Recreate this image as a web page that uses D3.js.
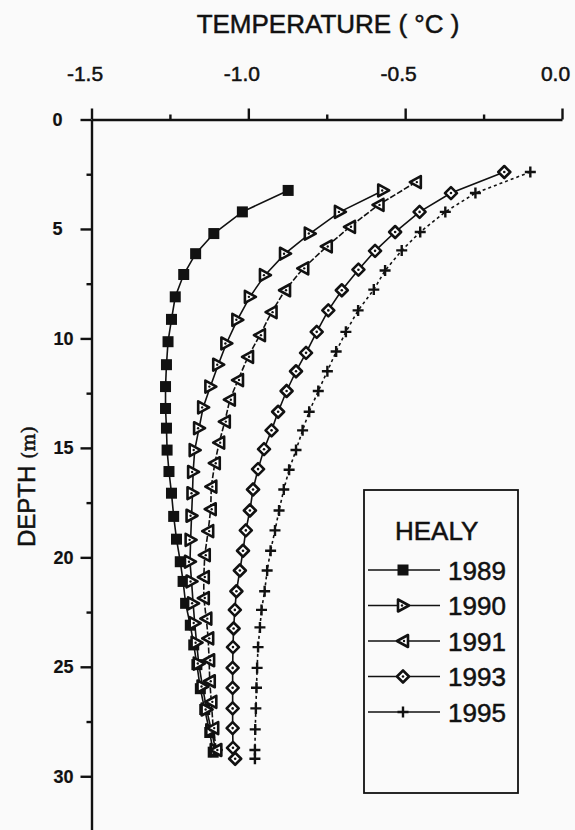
<!DOCTYPE html>
<html>
<head>
<meta charset="utf-8">
<script src="https://cdn.jsdelivr.net/npm/d3@7"></script>
<style>
	body { margin:0; background:#fafafa; }
	svg { display:block; font-family:"Liberation Sans", Arial, sans-serif; }
	text { stroke:#111; stroke-width:0.5px; }
</style>
</head>
<body>
<div id="chart"></div>
<script>
// depth (m) and temperature (deg C), one pair of arrays per year
var years = ["1989","1990","1991","1993","1995"]

var depth1989 = [3.24,4.22,5.21,6.13,7.08,8.10,9.13,10.15,11.2,12.2,13.2,14.1,15.1,16.08,17.07,18.13,19.17,20.2,21.1,22.1,23.1,24.0,24.9,26.0,26.95,28.0,28.9]
var temp1989 = [-0.873,-1.019,-1.110,-1.168,-1.206,-1.233,-1.245,-1.256,-1.261,-1.264,-1.264,-1.261,-1.259,-1.253,-1.245,-1.238,-1.229,-1.217,-1.208,-1.200,-1.185,-1.174,-1.164,-1.153,-1.139,-1.123,-1.112]

var depth1990 = [3.24,4.22,5.21,6.13,7.11,8.1,9.15,10.23,11.2,12.2,13.15,14.1,15.1,16.1,17.07,18.1,19.2,20.2,21.1,22.1,23.0,23.9,24.85,25.9,26.95,27.9,28.8]
var temp1990 = [-0.570,-0.708,-0.804,-0.883,-0.947,-0.995,-1.035,-1.070,-1.096,-1.121,-1.144,-1.157,-1.171,-1.176,-1.178,-1.181,-1.184,-1.186,-1.181,-1.176,-1.171,-1.165,-1.158,-1.146,-1.133,-1.118,-1.104]

var depth1991 = [2.86,3.9,4.9,5.8,6.8,7.8,8.8,9.85,10.84,11.9,12.8,13.8,14.76,15.7,16.77,17.8,18.8,19.9,20.9,21.86,22.8,23.7,24.7,25.66,26.6,27.8,28.8]
var temp1991 = [-0.466,-0.585,-0.676,-0.750,-0.825,-0.883,-0.926,-0.963,-1.001,-1.033,-1.059,-1.075,-1.093,-1.107,-1.118,-1.120,-1.128,-1.139,-1.142,-1.142,-1.134,-1.128,-1.125,-1.123,-1.118,-1.112,-1.102]

var depth1993 = [2.4,3.36,4.22,5.14,6.0,6.86,7.8,8.72,9.7,10.66,11.5,12.4,13.35,14.2,15.06,15.97,16.9,17.86,18.77,19.7,20.6,21.55,22.4,23.25,24.1,25.05,25.96,26.9,27.8,28.7,29.2]
var temp1993 = [-0.184,-0.354,-0.454,-0.532,-0.596,-0.649,-0.702,-0.745,-0.782,-0.816,-0.848,-0.878,-0.905,-0.926,-0.950,-0.969,-0.985,-0.995,-1.008,-1.017,-1.027,-1.038,-1.043,-1.047,-1.049,-1.050,-1.050,-1.050,-1.050,-1.049,-1.042]

var depth1995 = [2.4,3.36,4.22,5.14,5.98,6.9,7.77,8.72,9.7,10.6,11.5,12.4,13.35,14.2,15.1,16.0,16.9,17.86,18.77,19.7,20.6,21.55,22.4,23.2,24.1,25.05,25.96,26.9,27.86,28.8,29.2]
var temp1995 = [-0.101,-0.276,-0.372,-0.452,-0.511,-0.564,-0.600,-0.650,-0.689,-0.720,-0.748,-0.777,-0.806,-0.827,-0.848,-0.870,-0.887,-0.902,-0.915,-0.929,-0.940,-0.948,-0.958,-0.963,-0.969,-0.972,-0.974,-0.976,-0.978,-0.979,-0.979]

var xTicks = [-1.5,-1.0,-0.5,0.0]
var xMinor = [-1.25,-0.75,-0.25]
var yTicks = [0,5,10,15,20,25,30]
var yMinor = [2.5,7.5,12.5,17.5,22.5,27.5,32.5]

var chart = {}
chart.width = 575
chart.height = 830

var x = d3.scaleLinear().domain([-1.5,0]).range([91.5,562])
var y = d3.scaleLinear().domain([0,32.5]).range([119.5,831])

var svg = d3.select("#chart")
	.append("svg")
	.attr("width",chart.width)
	.attr("height",chart.height)

var series = [
	{year:"1989", depth:depth1989, temp:temp1989, marker:"square", dash:null},
	{year:"1990", depth:depth1990, temp:temp1990, marker:"right", dash:null},
	{year:"1991", depth:depth1991, temp:temp1991, marker:"left", dash:"6,2"},
	{year:"1993", depth:depth1993, temp:temp1993, marker:"diamond", dash:null},
	{year:"1995", depth:depth1995, temp:temp1995, marker:"plus", dash:"3,3"}
]

// axes
var xAxis = svg.append("g")
	.attr("transform","translate(0,"+y(0)+")")
	.call(d3.axisTop(x).tickValues(xTicks).tickSize(11).tickSizeOuter(0).tickPadding(28)
		.tickFormat(d3.format(".1f")))
xAxis.selectAll("text").attr("font-size",21).attr("dx",-7).attr("fill","#111")
	.text(function(d){ return d3.format(".1f")(d).replace("−","-") })

svg.append("g")
	.attr("transform","translate(0,"+y(0)+")")
	.call(d3.axisTop(x).tickValues(xMinor).tickSize(5).tickSizeOuter(0).tickFormat(""))
	.select(".domain").remove()

var yAxis = svg.append("g")
	.attr("transform","translate("+x(-1.5)+",0)")
	.call(d3.axisLeft(y).tickValues(yTicks).tickSize(11).tickSizeOuter(0).tickPadding(7))
yAxis.selectAll("text").attr("font-size",18).attr("font-weight","bold").attr("fill","#111")
	.style("stroke-width","0.2px")
	.attr("dx",function(d){ return d<10 ? -11 : 0 })

svg.append("g")
	.attr("transform","translate("+x(-1.5)+",0)")
	.call(d3.axisLeft(y).tickValues(yMinor).tickSize(5).tickSizeOuter(0).tickFormat(""))
	.select(".domain").remove()

svg.selectAll(".domain, .tick line").attr("stroke","#111").attr("stroke-width",2.4)

// titles
svg.append("text")
	.attr("x",328).attr("y",33)
	.attr("text-anchor","middle")
	.attr("font-size",26)
	.attr("fill","#111")
	.text("TEMPERATURE ( °C )")

var yl = svg.append("text")
	.attr("transform","translate(35,547) rotate(-90)")
	.attr("font-size",24)
	.attr("fill","#111")
yl.append("tspan").text("DEPTH ")
yl.append("tspan").attr("font-size",19).attr("font-family","DejaVu Serif").text("(m)")

// markers
function drawMarker(g,type) {
	if (type=="square") {
		g.append("rect").attr("x",-5.5).attr("y",-5.5).attr("width",11).attr("height",11).attr("fill","#111")
	} else if (type=="right" || type=="left") {
		var s = type=="right" ? 1 : -1
		g.append("path")
			.attr("d","M"+(-5*s)+",-6L"+(6*s)+",0L"+(-5*s)+",6Z")
			.attr("fill","#fff").attr("stroke","#111").attr("stroke-width",2.6).attr("stroke-linejoin","round")
		g.append("circle").attr("r",1.2).attr("cx",-s).attr("fill","#111")
	} else if (type=="diamond") {
		g.append("path").attr("d","M0,-6L6,0L0,6L-6,0Z")
			.attr("fill","#fff").attr("stroke","#111").attr("stroke-width",2.6).attr("stroke-linejoin","round")
		g.append("circle").attr("r",1.3).attr("fill","#111")
	} else {
		g.append("path").attr("d","M-5.5,0H5.5M0,-5.5V5.5")
			.attr("stroke","#111").attr("stroke-width",2.4)
	}
}

var line = d3.line()
	.x(function(d){ return x(d.t) })
	.y(function(d){ return y(d.z) })

var plot = svg.append("g")

series.forEach(function(s){
	var pts = s.depth.map(function(z,i){ return {z:z, t:s.temp[i]} })
	plot.append("path")
		.datum(pts)
		.attr("d",line)
		.attr("fill","none")
		.attr("stroke","#111")
		.attr("stroke-width",1.6)
		.attr("stroke-dasharray",s.dash)
	plot.selectAll(null)
		.data(pts)
		.enter()
		.append("g")
		.attr("transform",function(d){ return "translate("+x(d.t)+","+y(d.z)+")" })
		.each(function(){ drawMarker(d3.select(this),s.marker) })
})

// legend
var legend = svg.append("g")
legend.append("rect")
	.attr("x",364).attr("y",490).attr("width",154).attr("height",303)
	.attr("fill","#fafafa").attr("stroke","#111").attr("stroke-width",1.8)
legend.append("text")
	.attr("x",395).attr("y",540)
	.attr("font-size",26).attr("fill","#111")
	.text("HEALY")

var rows = legend.selectAll(".row")
	.data(series)
	.enter()
	.append("g")
	.attr("class","row")
	.attr("transform",function(d,i){ return "translate(0,"+(570+i*35.5)+")" })
rows.append("line")
	.attr("x1",368).attr("x2",440)
	.attr("stroke","#111").attr("stroke-width",1.6)
rows.append("g")
	.attr("transform","translate(403,0)")
	.each(function(d){ drawMarker(d3.select(this),d.marker) })
rows.append("text")
	.attr("x",448).attr("y",9.5)
	.attr("font-size",26).attr("fill","#111")
	.text(function(d){ return d.year })
</script>
</body>
</html>
